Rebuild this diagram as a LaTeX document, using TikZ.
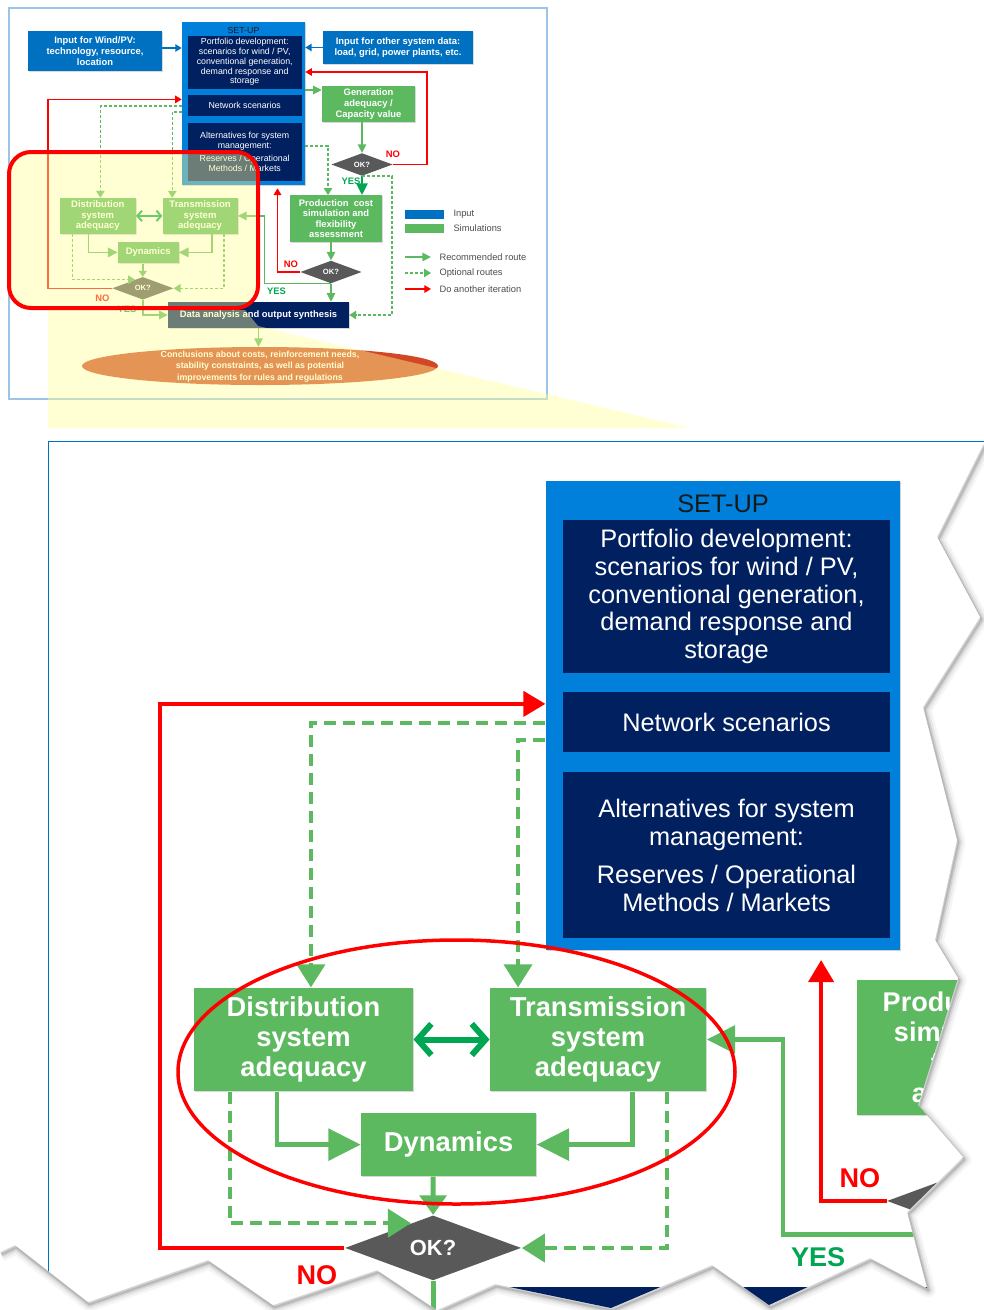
\documentclass[tikz,border=0pt]{standalone}
\usepackage{fontspec}
\setmainfont{Liberation Sans}
\usetikzlibrary{arrows.meta,shapes.geometric,shadows,calc}
\definecolor{setupblue}{RGB}{0,127,219}
\definecolor{inputblue}{RGB}{0,112,192}
\definecolor{navy}{RGB}{0,32,96}
\definecolor{simgreen}{RGB}{93,185,96}
\definecolor{darkgreen}{RGB}{0,166,81}
\definecolor{okgrey}{RGB}{89,89,89}
\definecolor{conclred}{RGB}{210,72,38}
\definecolor{framelight}{RGB}{157,195,230}
\definecolor{hilite}{RGB}{255,255,150}

\newcommand{\chartcore}{%
\node[setupbox,minimum width=123pt,minimum height=163pt] (setup) at (243.5,103.5) {};
\node[font=\fontsize{8.8}{9.7}\selectfont,text=black!90] (setuptitle) at (243.5,30) {SET-UP};
\node[navybox,minimum height=53.1pt] (portfolio) at (244.7,62.1) {Portfolio development:\\scenarios for wind / PV,\\conventional generation,\\demand response and\\storage};
\node[navybox,minimum height=20.8pt] (network) at (244.7,105.7) {Network scenarios};
\node[navybox,minimum height=57.7pt] (altern) at (244.7,151.9) {Alternatives for system\\management:\\[3.5pt]Reserves / Operational\\Methods / Markets};
\node[simbox,minimum width=76pt,minimum height=35.8pt] (dist) at (97.8,215.9) {Distribution\\system\\adequacy};
\node[simbox,minimum width=75pt,minimum height=35.8pt] (trans) at (200.1,215.9) {Transmission\\system\\adequacy};
\node[simbox,minimum width=60.7pt,minimum height=21.8pt] (dyn) at (148.2,252.4) {Dynamics};
\node[simbox,minimum width=92.3pt,minimum height=46.9pt,font=\bfseries\fontsize{9.4}{10.6}\selectfont] (prod) at (336,218.7) {Production\ \ cost\\simulation and\\flexibility\\assessment};
\node[okbox] (d1) at (142.8,288.3) {OK?};
\node[okbox] (d3) at (331,272) {OK?};
\node[navybox,minimum width=181pt,minimum height=26pt,font=\bfseries\fontsize{9.4}{11}\selectfont,drop shadow={shadow xshift=1pt,shadow yshift=-1pt,opacity=.3}] (data) at (258.5,315) {Data analysis and output synthesis};
\coordinate (upto) at (277.5,188.3);
\draw[rl,tipred] (d1.west) -| (48,99.4) -- (setup.west |- 0,99.4);
\draw[gd,tipdash] (setup.west |- 0,106) -| (100.4,0 |- dist.north);
\draw[gd,tipdash] (setup.west |- 0,111.9) -| (172.3,0 |- trans.north);
\draw[dgl,{Straight Barb[length=0pt 2.3,width=0pt 5.2]}-{Straight Barb[length=0pt 2.3,width=0pt 5.2]}] (dist.east) -- (trans.west);
\draw[gl,tipbig] (88.6,0 |- dist.south) |- (dyn.west);
\draw[gl,tipbig] (211.9,0 |- trans.south) |- (dyn.east);
\draw[gl,tipsmall] (142.8,0 |- dyn.south) -- (d1.north);
\draw[gd,tipdash] (72.3,0 |- dist.south) |- ($(d1.north)!0.5!(d1.north west)$);
\draw[gd,tipdash] (224,0 |- trans.south) |- (d1.east);
\draw[gl,tipmid] (d1.south) |- (data.west);
\draw[gl,tipmid] (331,0 |- prod.south) -- (d3.north);
\draw[rl,tipred] (d3.west) -| (upto);
\draw[gl,tipmid] (d3.south) -| (264.3,0 |- trans.east) -- (trans.east);
\draw[gl,tipmid] (d3.south) -- (331,0 |- data.north);
\node[lblred] (nod1) at (102.5,297.8) {NO};
\node[lblgreen] (yesd1) at (127,309.5) {YES};
\node[lblred] (nod3) at (291,264) {NO};
\node[lblgreen] (yesd3) at (276.5,291.5) {YES};
}

\begin{document}
\begin{tikzpicture}[x=1pt,y=-1pt,
  setupbox/.style={fill=setupblue,inner sep=0pt,drop shadow={shadow xshift=1pt,shadow yshift=-1pt,opacity=.35}},
  navybox/.style={fill=navy,text=white,inner sep=0pt,align=center,minimum width=113.6pt,font=\fontsize{8.8}{9.7}\selectfont},
  simbox/.style={fill=simgreen,text=white,inner sep=0pt,align=center,font=\bfseries\fontsize{9.5}{10.4}\selectfont,drop shadow={shadow xshift=1pt,shadow yshift=-1pt,opacity=.3}},
  inputbox/.style={fill=inputblue,text=white,inner sep=0pt,align=center,font=\bfseries\fontsize{9.4}{11.3}\selectfont,drop shadow={shadow xshift=1pt,shadow yshift=-1pt,opacity=.3}},
  okbox/.style={diamond,fill=okgrey,text=white,inner sep=0pt,minimum width=61.2pt,minimum height=22.6pt,font=\bfseries\fontsize{7.6}{8}\selectfont},
  lblred/.style={text=red,font=\bfseries\fontsize{9.4}{10}\selectfont},
  lblgreen/.style={text=darkgreen,font=\bfseries\fontsize{9.4}{10}\selectfont},
  legtext/.style={anchor=west,text=black!70,font=\fontsize{9.3}{10}\selectfont},
  gl/.style={draw=simgreen,line width=1.5pt},
  gd/.style={draw=simgreen,line width=1.2pt,dash pattern=on 3pt off 2pt},
  rl/.style={draw=red,line width=1.4pt},
  dgl/.style={draw=darkgreen,line width=2pt},
  bl/.style={draw=inputblue,line width=1.6pt,-{Triangle[length=0pt 4,width=0pt 4.5]}},
  tipbig/.style={-{Triangle[length=0pt 6.6,width=0pt 6.4]}},
  tipmid/.style={-{Triangle[length=0pt 5.8,width=0pt 5.6]}},
  tipsmall/.style={-{Triangle[length=0pt 4,width=0pt 5.4]}},
  tipdash/.style={-{Triangle[length=0pt 5.75,width=0pt 7]}},
  tipred/.style={-{Triangle[length=0pt 4.8,width=0pt 5.4]}}]
\useasboundingbox (0,0) rectangle (984,1310);

\draw[framelight,line width=1.2pt] (9,8) rectangle (547,399);
\chartcore
\node[inputbox,minimum width=134pt,minimum height=40pt] (wind) at (95,51) {Input for Wind/PV:\\technology, resource,\\location};
\node[inputbox,minimum width=150pt,minimum height=33pt] (other) at (398,47.5) {Input for other system data:\\load, grid, power plants, etc.};
\node[simbox,minimum width=93pt,minimum height=36pt,font=\bfseries\fontsize{9.4}{11.3}\selectfont] (gen) at (368.5,104) {Generation\\adequacy /\\Capacity value};
\node[okbox] (d2) at (362,164.5) {OK?};
\fill[conclred] (260,366) ellipse [x radius=178,y radius=19];
\node[text=white,align=center,font=\bfseries\fontsize{8.8}{11.5}\selectfont] (concl) at (260,366.5) {Conclusions about costs, reinforcement needs,\\stability constraints, as well as potential\\improvements for rules and regulations};
\coordinate (conctop) at (258.5,347);
\draw[bl] (wind.east |- 0,48) -- (setup.west |- 0,48);
\draw[bl] (other.west) -- (setup.east |- other.west);
\draw[gl,tipmid] (setup.east |- 0,90) -- (gen.west |- 0,90);
\draw[gl,tipmid] (362,0 |- gen.south) -- (d2.north);
\draw[dgl,tipmid] (d2.south) -- (362,0 |- prod.north);
\draw[rl,tipred] (d2.east) -| (427,72) -- (setup.east |- 0,72);
\draw[gd,tipdash] (d2.south) -| (392,0 |- data.east) -- (data.east);
\draw[gd,tipdash] (setup.east |- 0,146) -| (328,0 |- prod.north);
\draw[gl,tipmid] (258.5,0 |- data.south) -- (conctop);
\node[lblred] (nod2) at (393,154) {NO};
\node[lblgreen] (yesd2) at (351,181) {YES};
\fill[inputblue] (405,210) rectangle (444,219);
\fill[simgreen] (405,224) rectangle (444,233);
\node[legtext] (leginput) at (450,214.5) {Input};
\node[legtext] (legsim) at (450,228.5) {Simulations};
\coordinate (lga) at (405,257); \coordinate (lgb) at (431,257);
\coordinate (lgc) at (405,273); \coordinate (lgd) at (431,273);
\coordinate (lge) at (405,289); \coordinate (lgf) at (431,289);
\draw[gl,tipmid] (lga) -- (lgb);
\draw[gd,tipdash] (lgc) -- (lgd);
\draw[rl,tipred] (lge) -- (lgf);
\node[legtext] (legrec) at (436,257) {Recommended route};
\node[legtext] (legopt) at (436,273) {Optional routes};
\node[legtext] (legit) at (436,289) {Do another iteration};
\fill[hilite,opacity=.42,rounded corners=22pt] (9,152) rectangle (258,308);
\fill[hilite,opacity=.42] (48,310) -- (245,310) -- (258,326) -- (690,428) -- (48,428) -- cycle;
\draw[red,line width=4pt,rounded corners=22pt] (9,152) rectangle (258,308);

\foreach \w/\o in {14/.04,9/.06,5/.09,2/.12}
  \draw[black,opacity=\o,line width=\w pt,line join=round,shift={(1.5,2.5)}] (984,443) -- (937,537) -- (980,617) -- (923,707) -- (957,840) -- (935,940) -- (958,978) -- (918,1105) -- (963,1157) -- (907,1212) -- (917,1250) -- (927,1288) -- (870,1258) -- (769,1305) -- (712,1265) -- (611,1308) -- (495,1284) -- (437,1310) -- (377,1270) -- (273,1305) -- (208,1260) -- (88,1302) -- (15,1245) -- (0,1252);
\fill[white] (0,436) -- (984,436) -- (984,443) -- (937,537) -- (980,617) -- (923,707) -- (957,840) -- (935,940) -- (958,978) -- (918,1105) -- (963,1157) -- (907,1212) -- (917,1250) -- (927,1288) -- (870,1258) -- (769,1305) -- (712,1265) -- (611,1308) -- (495,1284) -- (437,1310) -- (377,1270) -- (273,1305) -- (208,1260) -- (88,1302) -- (15,1245) -- (0,1252) -- cycle;
\begin{scope}
\clip (0,436) -- (984,436) -- (984,443) -- (937,537) -- (980,617) -- (923,707) -- (957,840) -- (935,940) -- (958,978) -- (918,1105) -- (963,1157) -- (907,1212) -- (917,1250) -- (927,1288) -- (870,1258) -- (769,1305) -- (712,1265) -- (611,1308) -- (495,1284) -- (437,1310) -- (377,1270) -- (273,1305) -- (208,1260) -- (88,1302) -- (15,1245) -- (0,1252) -- cycle;
\begin{scope}[shift={(21.8,417.6)},scale=2.88,transform shape,name prefix=z-,
  gl/.style={draw=simgreen,line width=4.9pt},
  gd/.style={draw=simgreen,line width=4pt,dash pattern=on 12pt off 7pt},
  rl/.style={draw=red,line width=4.6pt},
  dgl/.style={draw=darkgreen,line width=6pt}]
\chartcore
\end{scope}
\draw[inputblue,line width=1.5pt] (48.5,1300) -- (48.5,441.5) -- (990,441.5);
\draw[red,line width=3.5pt] (456.5,1072) ellipse [x radius=278.5,y radius=132];
\end{scope}
\end{tikzpicture}
\end{document}
